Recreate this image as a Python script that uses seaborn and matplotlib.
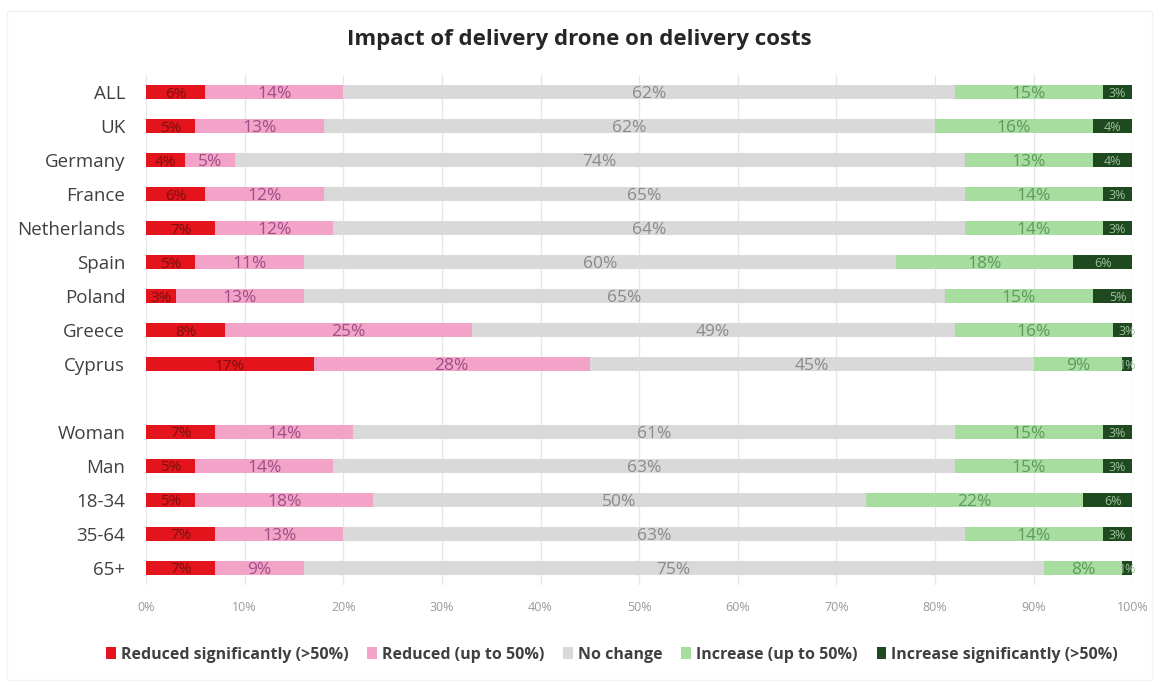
import matplotlib
matplotlib.use("Agg")
import matplotlib.pyplot as plt
from matplotlib.patches import Patch, Rectangle
import numpy as np
import pandas as pd
import seaborn as sns

# Survey groups (countries, then demographic splits)
countries = ["ALL", "UK", "Germany", "France", "Netherlands", "Spain", "Poland", "Greece", "Cyprus"]
demographics = ["Woman", "Man", "18-34", "35-64", "65+"]
groups = countries + demographics

# Share of answers per group (%)
reduced_sig = [6, 5, 4, 6, 7, 5, 3, 8, 17, 7, 5, 5, 7, 7]
reduced = [14, 13, 5, 12, 12, 11, 13, 25, 28, 14, 14, 18, 13, 9]
no_change = [62, 62, 74, 65, 64, 60, 65, 49, 45, 61, 63, 50, 63, 75]
increase = [15, 16, 13, 14, 14, 18, 15, 16, 9, 15, 15, 22, 14, 8]
increase_sig = [3, 4, 4, 3, 3, 6, 5, 3, 1, 3, 3, 6, 3, 1]

series_names = ["Reduced significantly (>50%)", "Reduced (up to 50%)", "No change",
                "Increase (up to 50%)", "Increase significantly (>50%)"]
series_values = [reduced_sig, reduced, no_change, increase, increase_sig]
colors = ["#E3141B", "#F4A3C8", "#D9D9D9", "#A8DDA0", "#1F4A1F"]
label_colors = ["#7A1010", "#9B4F87", "#8A8A8A", "#5E9A5E", "#9DBF9D"]

df = pd.DataFrame({"group": groups})
for name, vals in zip(series_names, series_values):
    df[name] = np.array(vals, dtype=float)
cum = df[series_names].cumsum(axis=1)
for name in series_names:
    df["cum_" + name] = cum[name]

# A blank slot separates countries from demographic groups
order = countries + [" "] + demographics

sns.set_theme(style="white")
plt.rcParams["font.family"] = ["Open Sans", "DejaVu Sans"]

fig = plt.figure(figsize=(11.59, 6.84), dpi=100)
ax = fig.add_axes([0.126, 0.145, 0.851, 0.745])

# Stacked bars: draw cumulative totals from the outermost layer inward
for name, col in reversed(list(zip(series_names, colors))):
    sns.barplot(data=df, x="cum_" + name, y="group", order=order, orient="h",
                color=col, width=0.42, saturation=1, linewidth=0, ax=ax, zorder=2)

# Value labels centred in each segment
ypos = {g: i for i, g in enumerate(order)}
for name, lc in zip(series_names, label_colors):
    for _, row in df.iterrows():
        v = row[name]
        right = row["cum_" + name]
        left = right - v
        if name == series_names[-1]:
            fs = 9
        elif name == series_names[0]:
            fs = 11
        else:
            fs = 12.5
        ax.text((left + right) / 2, ypos[row["group"]], f"{int(v)}%", ha="center",
                va="center_baseline", fontsize=fs, color=lc, zorder=3)

ax.set_xlim(0, 100)
ax.set_ylim(len(order) - 0.5, -0.5)
ax.set_xticks(np.arange(0, 101, 10))
ax.set_xticklabels([f"{t}%" for t in range(0, 101, 10)], fontsize=9, color="#9A9A9A")
ax.tick_params(axis="x", length=0, pad=12)
ax.tick_params(axis="y", length=0, pad=15)
ax.set_yticks(range(len(order)))
ax.set_yticklabels(order, fontsize=13.5, color="#404040")
ax.xaxis.grid(True, color="#E6E6E6", linewidth=0.9, zorder=0)
ax.set_axisbelow(True)
ax.set_xlabel("")
ax.set_ylabel("")
for s in ax.spines.values():
    s.set_visible(False)

fig.suptitle("Impact of delivery drone on delivery costs", x=0.5, y=0.957,
             fontsize=16, fontweight="bold", color="#262626")

handles = [Patch(facecolor=c, edgecolor="none") for c in colors]
leg = fig.legend(handles, series_names, loc="center", bbox_to_anchor=(0.528, 0.043), ncol=5,
                 frameon=False, handlelength=0.6, handleheight=0.7,
                 handletextpad=0.3, columnspacing=1.2,
                 prop={"weight": "bold", "size": 11.5})
for t in leg.get_texts():
    t.set_color("#404040")

# Faint chart-area border
fig.add_artist(Rectangle((7 / 1159, 4 / 684), 1145 / 1159, 669 / 684, transform=fig.transFigure,
                         fill=False, edgecolor="#F3F3F3", linewidth=1))

fig.savefig("out.png", dpi=100, facecolor="white")
